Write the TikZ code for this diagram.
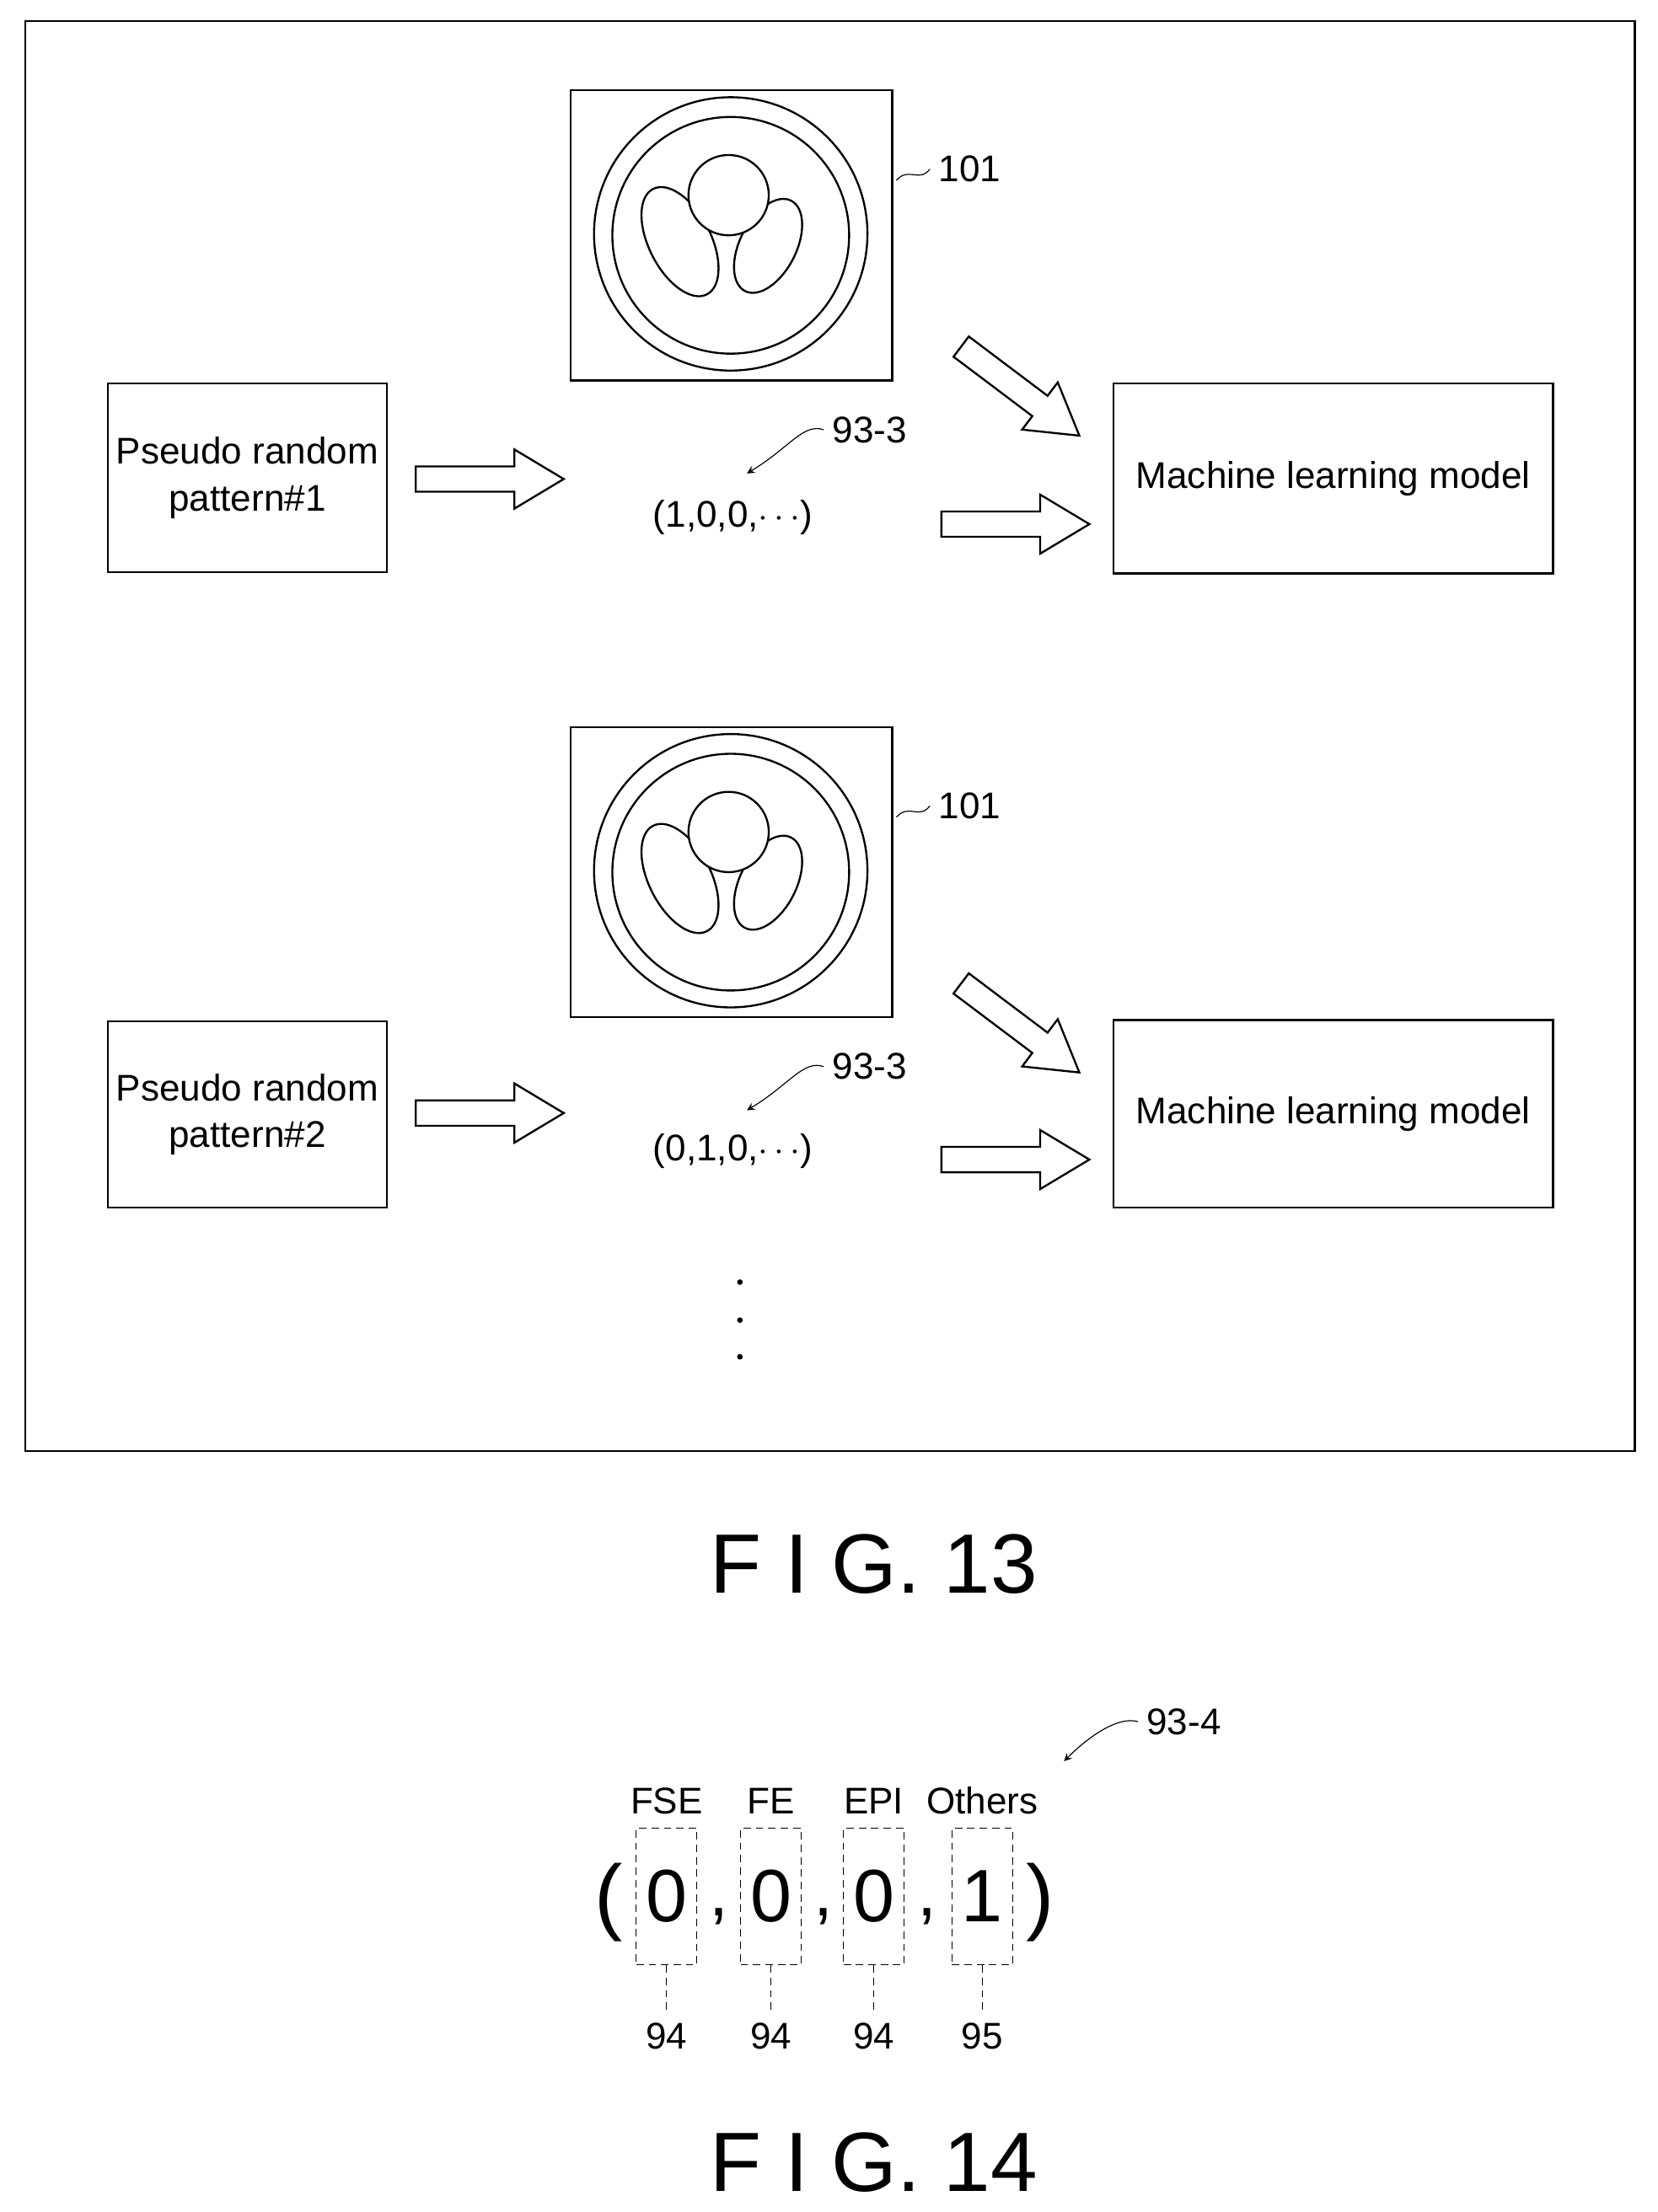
\documentclass[tikz,border=0pt]{standalone}
\usepackage{fontspec}
\setmainfont{Liberation Sans}
\usetikzlibrary{positioning}
\tikzset{
  box/.style={draw,thick,align=center,font=\fontsize{15}{19}\selectfont},
  lbl/.style={font=\fontsize{15}{18}\selectfont},
  fig/.style={font=\fontsize{34}{40}\selectfont},
  dbox/.style={draw,densely dashed,minimum width=0.86cm,minimum height=1.94cm,inner sep=0pt,font=\fontsize{30}{34}\selectfont},
}
% hollow arrow: #1 start, #2 angle
\newcommand{\harrow}[2]{%
  \draw[thick,shift={#1},rotate=#2] (0,-9) -- (70,-9) -- (70,-21) -- (105,0) -- (70,21) -- (70,9) -- (0,9) -- cycle;}
% phantom (head + ellipses)
\newcommand{\phantomimg}[1]{%
  \begin{scope}[shift={#1}]
    \draw[thick] (405,64) rectangle (633,270);
    \draw[thick] (518.5,166) circle (97);
    \draw[thick] (518.5,167) circle (84);
    \draw[thick] (482.5,171.5) ellipse [x radius=22,y radius=42,rotate=27];
    \draw[thick] (545,174.5) ellipse [x radius=20,y radius=36,rotate=-27];
    \draw[thick,fill=white] (517,138.5) circle (28.5);
  \end{scope}}
\begin{document}
\begin{tikzpicture}[x=0.02cm,y=-0.02cm]
\useasboundingbox (0,0) rectangle (1176,1570);
\draw[thick] (18,15) rectangle (1160,1030);
% first row
\phantomimg{(0,0)}
\node[lbl] (ref1) at (688,120) {101};
\draw (636,128) .. controls (645,118) and (652,130) .. (ref1.west);
\node[box,minimum width=3.9cm,minimum height=2.68cm] (pat1) at (175.5,339) {Pseudo random\\pattern\#1};
\node[box,minimum width=6.24cm,minimum height=2.7cm] (ml1) at (946,339.5) {Machine learning model};
\node[lbl] (vec1) at (520,367) {(1,0,0,$\cdots$)};
\node[lbl] (lab1) at (617,305) {93-3};
\coordinate (tip1) at (530,336);
\draw[-stealth] (lab1.west) .. controls (570,300) and (560,318) .. (tip1);
\harrow{(295,340)}{0}
\harrow{(668,372)}{0}
\harrow{(682,246)}{-37}
% second row
\phantomimg{(0,452)}
\node[lbl] (ref2) at (688,572) {101};
\draw (636,580) .. controls (645,570) and (652,582) .. (ref2.west);
\node[box,minimum width=3.9cm,minimum height=2.64cm] (pat2) at (175.5,791) {Pseudo random\\pattern\#2};
\node[box,minimum width=6.24cm,minimum height=2.66cm] (ml2) at (946,790.5) {Machine learning model};
\node[lbl] (vec2) at (520,817) {(0,1,0,$\cdots$)};
\node[lbl] (lab2) at (617,757) {93-3};
\coordinate (tip2) at (530,788);
\draw[-stealth] (lab2.west) .. controls (570,752) and (560,770) .. (tip2);
\harrow{(295,790)}{0}
\harrow{(668,823)}{0}
\harrow{(682,698)}{-37}
\foreach \y in {910,937,963} \fill (525,\y) circle (2);
\node[fig] (fig13) at (620,1110) {F I G. 13};
% FIG. 14
\node[lbl] (lab4) at (840,1222) {93-4};
\coordinate (tip4) at (755,1250);
\draw[-stealth] (lab4.west) .. controls (795,1218) and (775,1230) .. (tip4);
\node[font=\fontsize{34}{40}\selectfont] (lp) at (432,1350) {(};
\node[font=\fontsize{34}{40}\selectfont] (rp) at (738,1350) {)};
\foreach \x/\top/\v/\bot [count=\i] in {473/FSE/0/94,547/FE/0/94,620/EPI/0/94,697/Others/1/95}{
  \node[dbox] (d\i) at (\x,1346) {\v};
  \node[lbl,above=2pt of d\i] (t\i) {\top};
  \node[lbl] (b\i) at (\x,1445) {\bot};
  \draw[densely dashed] (d\i.south) -- (b\i.north);
}
\foreach \x in {510,584,658} \node[font=\fontsize{28}{32}\selectfont] at (\x,1360) {,};
\node[fig] (fig14) at (620,1535) {F I G. 14};
\end{tikzpicture}
\end{document}
